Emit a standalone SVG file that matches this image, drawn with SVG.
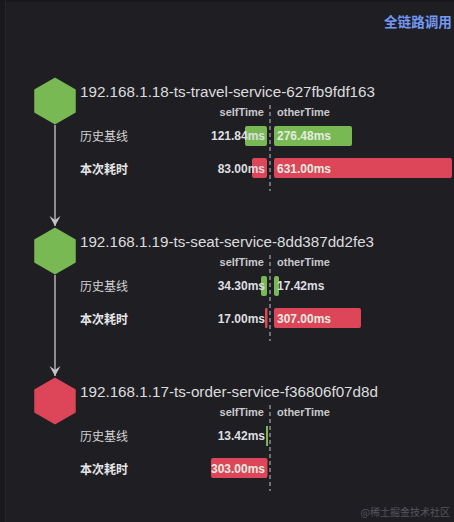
<svg xmlns="http://www.w3.org/2000/svg" width="454" height="522" viewBox="0 0 454 522">
<defs>
<style>
.bg{fill:#1f1f23}
.title{font-family:"Liberation Sans","Noto Sans CJK SC",sans-serif;font-size:15.5px;fill:#dcdcde}
.hdr{font-family:"Liberation Sans",sans-serif;font-size:11px;font-weight:bold;fill:#c9c9cc}
.lbl{font-family:"Liberation Sans","Noto Sans CJK SC",sans-serif;font-size:12px;fill:#d2d2d4}
.lblb{font-family:"Liberation Sans","Noto Sans CJK SC",sans-serif;font-size:12px;font-weight:bold;fill:#e6e6e8}
.val{font-family:"Liberation Sans",sans-serif;font-size:12px;font-weight:bold;fill:#dedee0}
.valin{font-family:"Liberation Sans",sans-serif;font-size:12px;font-weight:bold;fill:#e4ece0}
.g{fill:#79b954}
.r{fill:#dc4658}
.dash{stroke:#a8a8b0;stroke-width:1.2;stroke-dasharray:4 3}
.conn{stroke:#b4b4b8;stroke-width:1.5;fill:none}
</style>
<marker id="arr" viewBox="0 0 12 12" refX="11" refY="6" markerWidth="12" markerHeight="12" markerUnits="userSpaceOnUse" orient="auto">
<path d="M1,0.5 L11,6 L1,11.5 L5,6 Z" fill="#c4c4c8"/>
</marker>
</defs>
<rect class="bg" x="0" y="0" width="454" height="522"/>
<rect x="0" y="0" width="5" height="522" fill="#19191c"/>
<rect x="0" y="0" width="454" height="2" fill="#19191c"/>
<rect x="5" y="0" width="1" height="522" fill="#26262a"/>
<text x="384" y="27" font-family="'Noto Sans CJK SC',sans-serif" font-size="13.6" font-weight="bold" fill="#7399f5">全链路调用</text>

<g id="connectors">
<line class="conn" x1="55" y1="125" x2="55" y2="226" marker-end="url(#arr)"/>
<line class="conn" x1="55" y1="275" x2="55" y2="376" marker-end="url(#arr)"/>
</g>

<g id="node-travel">
<polygon class="g" points="55,78.5 75,90 75,112 55,123.5 35,112 35,90" stroke="#79b954" stroke-width="1.5" stroke-linejoin="round"/>
<text class="title" x="80" y="97" textLength="295" lengthAdjust="spacingAndGlyphs">192.168.1.18-ts-travel-service-627fb9fdf163</text>
<text class="hdr" x="264" y="116" text-anchor="end">selfTime</text>
<text class="hdr" x="277" y="116">otherTime</text>
<line class="dash" x1="270" y1="105" x2="270" y2="191"/>
<text class="lbl" x="80" y="141">历史基线</text>
<text class="lblb" x="80" y="174">本次耗时</text>
<rect class="g" x="245" y="126" width="22" height="20" rx="2"/>
<rect class="g" x="274" y="126" width="78" height="20" rx="2"/>
<rect class="r" x="252" y="158" width="15" height="20" rx="2"/>
<rect class="r" x="274" y="158" width="178" height="20" rx="2"/>
<text class="val" x="265" y="139.5" text-anchor="end">121.84ms</text>
<text class="valin" x="277" y="139.5">276.48ms</text>
<text class="val" x="265" y="173" text-anchor="end">83.00ms</text>
<text class="valin" x="277" y="173">631.00ms</text>
</g>

<g id="node-seat" transform="translate(0,150)">
<polygon class="g" points="55,78.5 75,90 75,112 55,123.5 35,112 35,90" stroke="#79b954" stroke-width="1.5" stroke-linejoin="round"/>
<text class="title" x="80" y="97" textLength="294" lengthAdjust="spacingAndGlyphs">192.168.1.19-ts-seat-service-8dd387dd2fe3</text>
<text class="hdr" x="264" y="116" text-anchor="end">selfTime</text>
<text class="hdr" x="277" y="116">otherTime</text>
<line class="dash" x1="270" y1="105" x2="270" y2="191"/>
<text class="lbl" x="80" y="141">历史基线</text>
<text class="lblb" x="80" y="174">本次耗时</text>
<rect class="g" x="261" y="126" width="6" height="20" rx="2"/>
<rect class="g" x="274" y="126" width="5" height="20" rx="2"/>
<rect class="r" x="265" y="158" width="2.5" height="20" rx="1"/>
<rect class="r" x="274" y="158" width="87" height="20" rx="2"/>
<text class="val" x="265" y="139.5" text-anchor="end">34.30ms</text>
<text class="val" x="277" y="139.5">17.42ms</text>
<text class="val" x="265" y="173" text-anchor="end">17.00ms</text>
<text class="valin" x="277" y="173">307.00ms</text>
</g>

<g id="node-order" transform="translate(0,300)">
<polygon class="r" points="55,78.5 75,90 75,112 55,123.5 35,112 35,90" stroke="#dc4658" stroke-width="1.5" stroke-linejoin="round"/>
<text class="title" x="80" y="97" textLength="298" lengthAdjust="spacingAndGlyphs">192.168.1.17-ts-order-service-f36806f07d8d</text>
<text class="hdr" x="264" y="116" text-anchor="end">selfTime</text>
<text class="hdr" x="277" y="116">otherTime</text>
<line class="dash" x1="270" y1="105" x2="270" y2="191"/>
<text class="lbl" x="80" y="141">历史基线</text>
<text class="lblb" x="80" y="174">本次耗时</text>
<rect class="g" x="266" y="126" width="2" height="20"/>
<rect class="r" x="211" y="158" width="56.5" height="20" rx="2"/>
<text class="val" x="265" y="139.5" text-anchor="end">13.42ms</text>
<text class="valin" x="265" y="173" text-anchor="end">303.00ms</text>
</g>

<text x="450" y="516" text-anchor="end" font-family="'Noto Sans CJK SC',sans-serif" font-size="10" fill="#55555a">@稀土掘金技术社区</text>
</svg>
